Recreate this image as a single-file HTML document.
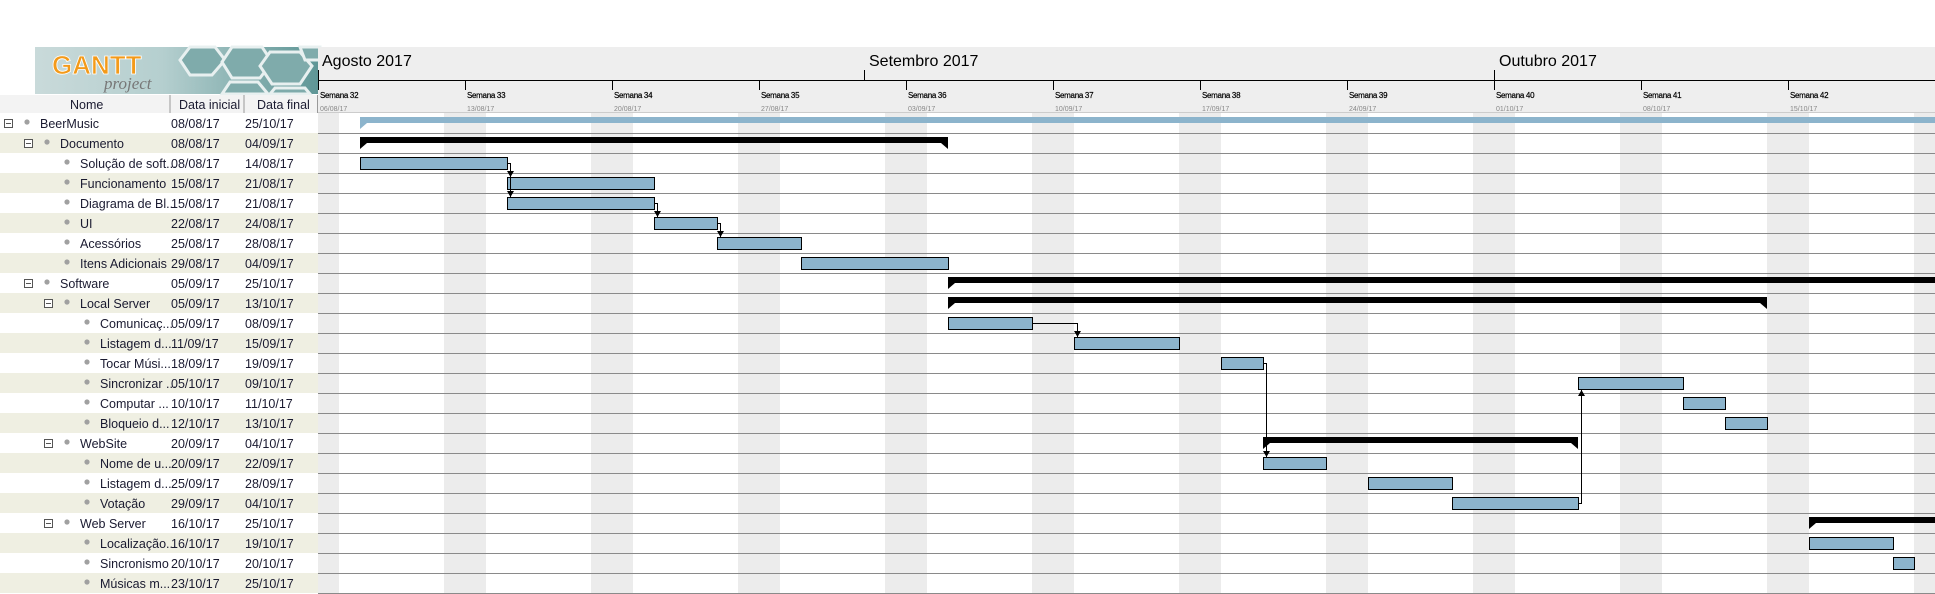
<!DOCTYPE html>
<html><head><meta charset="utf-8"><style>
body{margin:0;width:1935px;height:594px;overflow:hidden;background:#fff;font-family:"Liberation Sans",sans-serif;position:relative}
</style></head><body>
<svg width="1935" height="594" style="position:absolute;left:0;top:0" font-family="Liberation Sans, sans-serif">
<defs>
<linearGradient id="lg" x1="0" x2="1"><stop offset="0" stop-color="#c9dada"/><stop offset="0.45" stop-color="#b5cfcf"/><stop offset="1" stop-color="#5f9696"/></linearGradient>
</defs>
<rect x="35" y="47" width="283" height="47" fill="url(#lg)"/>
<g fill="#7fabab" stroke="#e8f0f0" stroke-width="3">
<polygon points="190,47 215,47 225,60 212,75 190,75 180,60"/>
<polygon points="232,47 262,47 272,62 260,78 232,78 222,62"/>
<polygon points="270,52 300,52 312,66 300,84 272,84 260,66"/>
<polygon points="230,82 258,82 268,94 222,94"/>
<polygon points="275,88 305,88 310,94 270,94"/>
<polygon points="300,47 320,47 320,60 305,60"/>
</g>
<text x="52" y="74" font-size="26" font-weight="bold" fill="#f39a1a" stroke="#fff" stroke-width="0.8">GANTT</text>
<text x="104" y="89" font-size="17" font-style="italic" font-family="Liberation Serif, serif" fill="#777">project</text>
<rect x="0" y="95" width="318" height="18" fill="#f3f3f3"/>
<line x1="170" y1="95" x2="170" y2="113" stroke="#999"/>
<line x1="244" y1="95" x2="244" y2="113" stroke="#999"/>
<line x1="317.5" y1="95" x2="317.5" y2="113" stroke="#999"/>
<g fill="#efefe2">
<rect x="0" y="133" width="318" height="20"/><rect x="0" y="173" width="318" height="20"/><rect x="0" y="213" width="318" height="20"/><rect x="0" y="253" width="318" height="20"/><rect x="0" y="293" width="318" height="20"/><rect x="0" y="333" width="318" height="20"/><rect x="0" y="373" width="318" height="20"/><rect x="0" y="413" width="318" height="20"/><rect x="0" y="453" width="318" height="20"/><rect x="0" y="493" width="318" height="20"/><rect x="0" y="533" width="318" height="20"/><rect x="0" y="573" width="318" height="20"/>
</g>
<rect x="318" y="47" width="1617" height="66" fill="#eeeeee"/>
<line x1="318" y1="80.5" x2="1935" y2="80.5" stroke="#000"/>
<line x1="318" y1="112.5" x2="1935" y2="112.5" stroke="#ccc"/>
<g stroke="#000"><line x1="318.5" y1="70" x2="318.5" y2="90"/><line x1="864.5" y1="70" x2="864.5" y2="80"/><line x1="1494.5" y1="70" x2="1494.5" y2="80"/></g>
<g font-size="16" fill="#000"><text x="322" y="66">Agosto 2017</text><text x="869" y="66">Setembro 2017</text><text x="1499" y="66">Outubro 2017</text></g>
<g stroke="#000">
<line x1="465.5" y1="80" x2="465.5" y2="90"/><line x1="612.5" y1="80" x2="612.5" y2="90"/><line x1="759.5" y1="80" x2="759.5" y2="90"/><line x1="906.5" y1="80" x2="906.5" y2="90"/><line x1="1053.5" y1="80" x2="1053.5" y2="90"/><line x1="1200.5" y1="80" x2="1200.5" y2="90"/><line x1="1347.5" y1="80" x2="1347.5" y2="90"/><line x1="1494.5" y1="80" x2="1494.5" y2="90"/><line x1="1641.5" y1="80" x2="1641.5" y2="90"/><line x1="1788.5" y1="80" x2="1788.5" y2="90"/>
</g>
<g font-size="8" fill="#000" stroke="#000" stroke-width="0.2" letter-spacing="-0.3">
<text x="320" y="98">Semana 32</text><text x="467" y="98">Semana 33</text><text x="614" y="98">Semana 34</text><text x="761" y="98">Semana 35</text><text x="908" y="98">Semana 36</text><text x="1055" y="98">Semana 37</text><text x="1202" y="98">Semana 38</text><text x="1349" y="98">Semana 39</text><text x="1496" y="98">Semana 40</text><text x="1643" y="98">Semana 41</text><text x="1790" y="98">Semana 42</text>
</g>
<g font-size="7" fill="#888">
<text x="320" y="111">06/08/17</text><text x="467" y="111">13/08/17</text><text x="614" y="111">20/08/17</text><text x="761" y="111">27/08/17</text><text x="908" y="111">03/09/17</text><text x="1055" y="111">10/09/17</text><text x="1202" y="111">17/09/17</text><text x="1349" y="111">24/09/17</text><text x="1496" y="111">01/10/17</text><text x="1643" y="111">08/10/17</text><text x="1790" y="111">15/10/17</text>
</g>
<g fill="#ececec">
<rect x="318" y="113" width="21" height="481"/>
<rect x="444" y="113" width="42" height="481"/><rect x="591" y="113" width="42" height="481"/><rect x="738" y="113" width="42" height="481"/><rect x="885" y="113" width="42" height="481"/><rect x="1032" y="113" width="42" height="481"/><rect x="1179" y="113" width="42" height="481"/><rect x="1326" y="113" width="42" height="481"/><rect x="1473" y="113" width="42" height="481"/><rect x="1620" y="113" width="42" height="481"/><rect x="1767" y="113" width="42" height="481"/><rect x="1914" y="113" width="42" height="481"/>
</g>
<g stroke="#8a8a8a">
<line x1="318" y1="133.5" x2="1935" y2="133.5"/><line x1="318" y1="153.5" x2="1935" y2="153.5"/><line x1="318" y1="173.5" x2="1935" y2="173.5"/><line x1="318" y1="193.5" x2="1935" y2="193.5"/><line x1="318" y1="213.5" x2="1935" y2="213.5"/><line x1="318" y1="233.5" x2="1935" y2="233.5"/><line x1="318" y1="253.5" x2="1935" y2="253.5"/><line x1="318" y1="273.5" x2="1935" y2="273.5"/><line x1="318" y1="293.5" x2="1935" y2="293.5"/><line x1="318" y1="313.5" x2="1935" y2="313.5"/><line x1="318" y1="333.5" x2="1935" y2="333.5"/><line x1="318" y1="353.5" x2="1935" y2="353.5"/><line x1="318" y1="373.5" x2="1935" y2="373.5"/><line x1="318" y1="393.5" x2="1935" y2="393.5"/><line x1="318" y1="413.5" x2="1935" y2="413.5"/><line x1="318" y1="433.5" x2="1935" y2="433.5"/><line x1="318" y1="453.5" x2="1935" y2="453.5"/><line x1="318" y1="473.5" x2="1935" y2="473.5"/><line x1="318" y1="493.5" x2="1935" y2="493.5"/><line x1="318" y1="513.5" x2="1935" y2="513.5"/><line x1="318" y1="533.5" x2="1935" y2="533.5"/><line x1="318" y1="553.5" x2="1935" y2="553.5"/><line x1="318" y1="573.5" x2="1935" y2="573.5"/><line x1="318" y1="593.5" x2="1935" y2="593.5"/>
</g>
<rect x="360" y="117" width="1575" height="6" fill="#8cb4cc"/><polygon points="360,123 367,123 360,129" fill="#8cb4cc"/>
<g fill="#000">
<rect x="360" y="137" width="588" height="6"/><polygon points="360,143 367,143 360,149"/><polygon points="948,143 941,143 948,149"/>
<rect x="948" y="277" width="987" height="6"/><polygon points="948,283 955,283 948,289"/>
<rect x="948" y="297" width="819" height="6"/><polygon points="948,303 955,303 948,309"/><polygon points="1767,303 1760,303 1767,309"/>
<rect x="1263" y="437" width="315" height="6"/><polygon points="1263,443 1270,443 1263,449"/><polygon points="1578,443 1571,443 1578,449"/>
<rect x="1809" y="517" width="126" height="6"/><polygon points="1809,523 1816,523 1809,529"/>
</g>
<g fill="#8cb4cc" stroke="#000" stroke-width="1">
<rect x="360.5" y="157.5" width="147" height="12"/>
<rect x="507.5" y="177.5" width="147" height="12"/>
<rect x="507.5" y="197.5" width="147" height="12"/>
<rect x="654.5" y="217.5" width="63" height="12"/>
<rect x="717.5" y="237.5" width="84" height="12"/>
<rect x="801.5" y="257.5" width="147" height="12"/>
<rect x="948.5" y="317.5" width="84" height="12"/>
<rect x="1074.5" y="337.5" width="105" height="12"/>
<rect x="1221.5" y="357.5" width="42" height="12"/>
<rect x="1578.5" y="377.5" width="105" height="12"/>
<rect x="1683.5" y="397.5" width="42" height="12"/>
<rect x="1725.5" y="417.5" width="42" height="12"/>
<rect x="1263.5" y="457.5" width="63" height="12"/>
<rect x="1368.5" y="477.5" width="84" height="12"/>
<rect x="1452.5" y="497.5" width="126" height="12"/>
<rect x="1809.5" y="537.5" width="84" height="12"/>
<rect x="1893.5" y="557.5" width="21" height="12"/>
</g>
<g stroke="#000" fill="none">
<polyline points="507,163.5 510.5,163.5 510.5,197"/>
<polyline points="654,203.5 657.5,203.5 657.5,217"/>
<polyline points="717,223.5 720.5,223.5 720.5,237"/>
<polyline points="1032,323.5 1077.5,323.5 1077.5,337"/>
<polyline points="1263,363.5 1266.5,363.5 1266.5,457"/>
<polyline points="1578,503.5 1581.5,503.5 1581.5,390"/>
</g>
<g fill="#000">
<polygon points="507,171 514,171 510.5,177"/><polygon points="507,191 514,191 510.5,197"/>
<polygon points="654,211 661,211 657.5,217"/><polygon points="717,231 724,231 720.5,237"/>
<polygon points="1074,331 1081,331 1077.5,337"/><polygon points="1263,451 1270,451 1266.5,457"/>
<polygon points="1578,396 1585,396 1581.5,390"/>
</g>
<g fill="#fff" stroke="#555">
<rect x="4.5" y="119.5" width="8" height="8"/><rect x="24.5" y="139.5" width="8" height="8"/><rect x="24.5" y="279.5" width="8" height="8"/><rect x="44.5" y="299.5" width="8" height="8"/><rect x="44.5" y="439.5" width="8" height="8"/><rect x="44.5" y="519.5" width="8" height="8"/>
</g>
<g stroke="#555"><line x1="6" y1="123.5" x2="11" y2="123.5"/><line x1="26" y1="143.5" x2="31" y2="143.5"/><line x1="26" y1="283.5" x2="31" y2="283.5"/><line x1="46" y1="303.5" x2="51" y2="303.5"/><line x1="46" y1="443.5" x2="51" y2="443.5"/><line x1="46" y1="523.5" x2="51" y2="523.5"/></g>
<g fill="#a0a0a0">
<circle cx="27" cy="122" r="2.6"/><circle cx="47" cy="142" r="2.6"/>
<circle cx="67" cy="162" r="2.6"/><circle cx="67" cy="182" r="2.6"/><circle cx="67" cy="202" r="2.6"/><circle cx="67" cy="222" r="2.6"/><circle cx="67" cy="242" r="2.6"/><circle cx="67" cy="262" r="2.6"/>
<circle cx="47" cy="282" r="2.6"/><circle cx="67" cy="302" r="2.6"/>
<circle cx="87" cy="322" r="2.6"/><circle cx="87" cy="342" r="2.6"/><circle cx="87" cy="362" r="2.6"/><circle cx="87" cy="382" r="2.6"/><circle cx="87" cy="402" r="2.6"/><circle cx="87" cy="422" r="2.6"/>
<circle cx="67" cy="442" r="2.6"/><circle cx="87" cy="462" r="2.6"/><circle cx="87" cy="482" r="2.6"/><circle cx="87" cy="502" r="2.6"/>
<circle cx="67" cy="522" r="2.6"/><circle cx="87" cy="542" r="2.6"/><circle cx="87" cy="562" r="2.6"/><circle cx="87" cy="582" r="2.6"/>
</g>
<g font-size="12.5" fill="#1a1a30">
<text x="70" y="109">Nome</text><text x="179" y="109">Data inicial</text><text x="257" y="109">Data final</text>
</g>
<g font-size="12.5" fill="#1a1a30">
<text x="40" y="128">BeerMusic</text>
<text x="60" y="148">Documento</text>
<text x="80" y="168">Solução de soft...</text>
<text x="80" y="188">Funcionamento</text>
<text x="80" y="208">Diagrama de Bl...</text>
<text x="80" y="228">UI</text>
<text x="80" y="248">Acessórios</text>
<text x="80" y="268">Itens Adicionais</text>
<text x="60" y="288">Software</text>
<text x="80" y="308">Local Server</text>
<text x="100" y="328">Comunicaç...</text>
<text x="100" y="348">Listagem d...</text>
<text x="100" y="368">Tocar Músi...</text>
<text x="100" y="388">Sincronizar ...</text>
<text x="100" y="408">Computar ...</text>
<text x="100" y="428">Bloqueio d...</text>
<text x="80" y="448">WebSite</text>
<text x="100" y="468">Nome de u...</text>
<text x="100" y="488">Listagem d...</text>
<text x="100" y="508">Votação</text>
<text x="80" y="528">Web Server</text>
<text x="100" y="548">Localização...</text>
<text x="100" y="568">Sincronismo</text>
<text x="100" y="588">Músicas m...</text>
</g>
<g font-size="12.5" fill="#1a1a30">
<text x="171" y="128">08/08/17</text><text x="245" y="128">25/10/17</text>
<text x="171" y="148">08/08/17</text><text x="245" y="148">04/09/17</text>
<text x="171" y="168">08/08/17</text><text x="245" y="168">14/08/17</text>
<text x="171" y="188">15/08/17</text><text x="245" y="188">21/08/17</text>
<text x="171" y="208">15/08/17</text><text x="245" y="208">21/08/17</text>
<text x="171" y="228">22/08/17</text><text x="245" y="228">24/08/17</text>
<text x="171" y="248">25/08/17</text><text x="245" y="248">28/08/17</text>
<text x="171" y="268">29/08/17</text><text x="245" y="268">04/09/17</text>
<text x="171" y="288">05/09/17</text><text x="245" y="288">25/10/17</text>
<text x="171" y="308">05/09/17</text><text x="245" y="308">13/10/17</text>
<text x="171" y="328">05/09/17</text><text x="245" y="328">08/09/17</text>
<text x="171" y="348">11/09/17</text><text x="245" y="348">15/09/17</text>
<text x="171" y="368">18/09/17</text><text x="245" y="368">19/09/17</text>
<text x="171" y="388">05/10/17</text><text x="245" y="388">09/10/17</text>
<text x="171" y="408">10/10/17</text><text x="245" y="408">11/10/17</text>
<text x="171" y="428">12/10/17</text><text x="245" y="428">13/10/17</text>
<text x="171" y="448">20/09/17</text><text x="245" y="448">04/10/17</text>
<text x="171" y="468">20/09/17</text><text x="245" y="468">22/09/17</text>
<text x="171" y="488">25/09/17</text><text x="245" y="488">28/09/17</text>
<text x="171" y="508">29/09/17</text><text x="245" y="508">04/10/17</text>
<text x="171" y="528">16/10/17</text><text x="245" y="528">25/10/17</text>
<text x="171" y="548">16/10/17</text><text x="245" y="548">19/10/17</text>
<text x="171" y="568">20/10/17</text><text x="245" y="568">20/10/17</text>
<text x="171" y="588">23/10/17</text><text x="245" y="588">25/10/17</text>
</g>
</svg>
</body></html>
